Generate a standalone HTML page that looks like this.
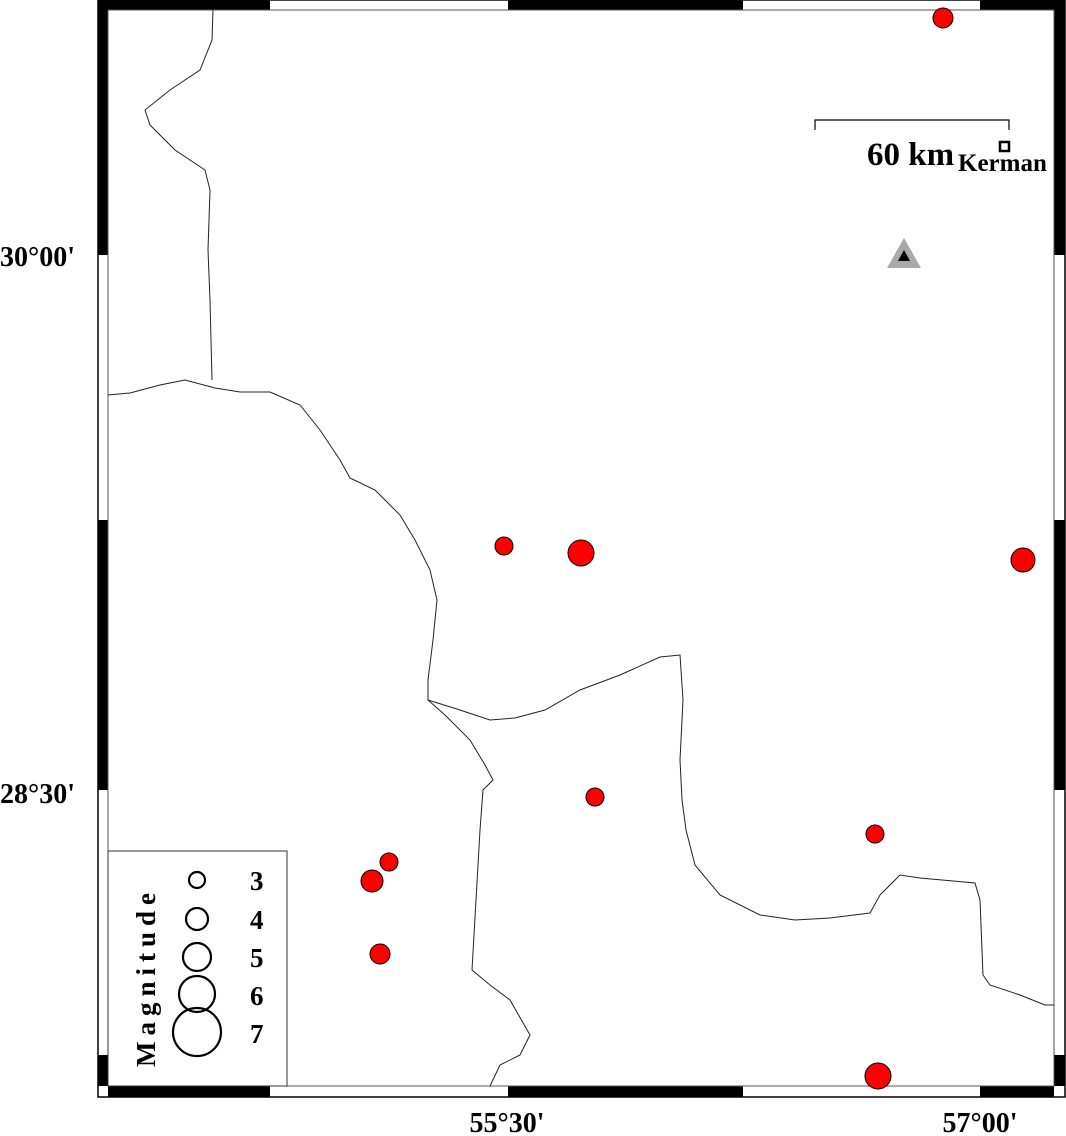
<!DOCTYPE html>
<html><head><meta charset="utf-8"><style>
html,body{margin:0;padding:0;background:#fff;}
svg{display:block;font-family:"Liberation Serif",serif;font-weight:bold;}
</style></head><body>
<svg width="1066" height="1136" viewBox="0 0 1066 1136" xmlns="http://www.w3.org/2000/svg">
<rect x="0" y="0" width="1066" height="1136" fill="#fff"/>
<rect x="98" y="0" width="967" height="1097" fill="#fff" stroke="#000" stroke-width="1.5"/>
<g fill="#000">
<rect x="98" y="0" width="172" height="10"/><rect x="508" y="0" width="235" height="10"/><rect x="980" y="0" width="85" height="10"/>
<rect x="108" y="1086" width="162" height="11"/><rect x="508" y="1086" width="235" height="11"/><rect x="980" y="1086" width="74" height="11"/>
<rect x="98" y="10" width="10" height="245"/><rect x="98" y="520" width="10" height="270"/><rect x="98" y="1055" width="10" height="31"/>
<rect x="1054" y="10" width="11" height="245"/><rect x="1054" y="520" width="11" height="270"/><rect x="1054" y="1055" width="11" height="31"/>
</g>
<rect x="108" y="10" width="946" height="1076" fill="#fff" stroke="#555" stroke-width="1"/>
<g fill="none" stroke="#222" stroke-width="1">
<path d="M213,10 L212,40 L200,70 L170,90 L145,110 L150,125 L175,150 L205,170 L210,190 L208,250 L210,300 L212,380"/>
<path d="M108,395 L130,393 L160,385 L185,380 L215,388 L240,392 L270,392 L300,405 L320,430 L340,460 L350,478 L375,490 L400,515 L415,540 L430,570 L437,600 L433,640 L428,680 L428,700 L460,710 L490,720 L515,718 L545,710 L580,690 L620,675 L660,657 L680,655 L683,700 L680,760 L682,800 L686,830 L695,865 L720,895 L760,915 L795,920 L830,918 L870,913 L880,895 L900,875 L920,878 L975,883 L980,900 L983,975 L990,985 L1020,995 L1045,1005 L1054,1005"/>
<path d="M428,700 L445,715 L470,740 L485,765 L493,780 L483,790 L480,830 L476,900 L472,970 L490,985 L510,1000 L530,1035 L520,1055 L500,1065 L490,1086"/>
</g>
<g fill="#f00" stroke="#000" stroke-width="1">
<circle cx="943" cy="18" r="10"/><circle cx="504" cy="546" r="9"/><circle cx="581" cy="553" r="13"/>
<circle cx="1023" cy="560" r="12"/><circle cx="595" cy="797" r="9"/><circle cx="875" cy="834" r="9"/>
<circle cx="389" cy="862" r="9"/><circle cx="372" cy="881" r="11"/><circle cx="380" cy="954" r="10"/>
<circle cx="878" cy="1076" r="13"/>
</g>
<polygon points="904,238 887,268 921,268" fill="#aaa"/>
<polygon points="904,250 898,261 910,261" fill="#000"/>
<path d="M815,130 L815,120 L1009,120 L1009,130" fill="none" stroke="#000" stroke-width="1.2"/>
<text x="867" y="165" font-size="33">60 km</text>
<text x="958" y="171" font-size="25">Kerman</text>
<rect x="1000" y="142" width="9" height="9" fill="#fff" stroke="#000" stroke-width="2.5"/>
<rect x="108" y="851" width="179" height="235" fill="#fff" stroke="#333" stroke-width="1"/>
<g fill="none" stroke="#000" stroke-width="2.2">
<circle cx="197" cy="880" r="8"/><circle cx="197" cy="919" r="11"/><circle cx="197" cy="957" r="14"/>
<circle cx="197" cy="994" r="18"/><circle cx="197" cy="1032" r="24"/>
</g>
<g font-size="27"><text x="250" y="890">3</text><text x="250" y="929">4</text><text x="250" y="967">5</text><text x="250" y="1005">6</text><text x="250" y="1043">7</text></g>
<text transform="translate(155,1067) rotate(-90)" font-size="27" letter-spacing="6">Magnitude</text>
<g font-size="28">
<text x="0" y="266">30°00'</text>
<text x="0" y="803">28°30'</text>
<text x="507" y="1132" text-anchor="middle">55°30'</text>
<text x="980" y="1132" text-anchor="middle">57°00'</text>
</g>
</svg>
</body></html>
